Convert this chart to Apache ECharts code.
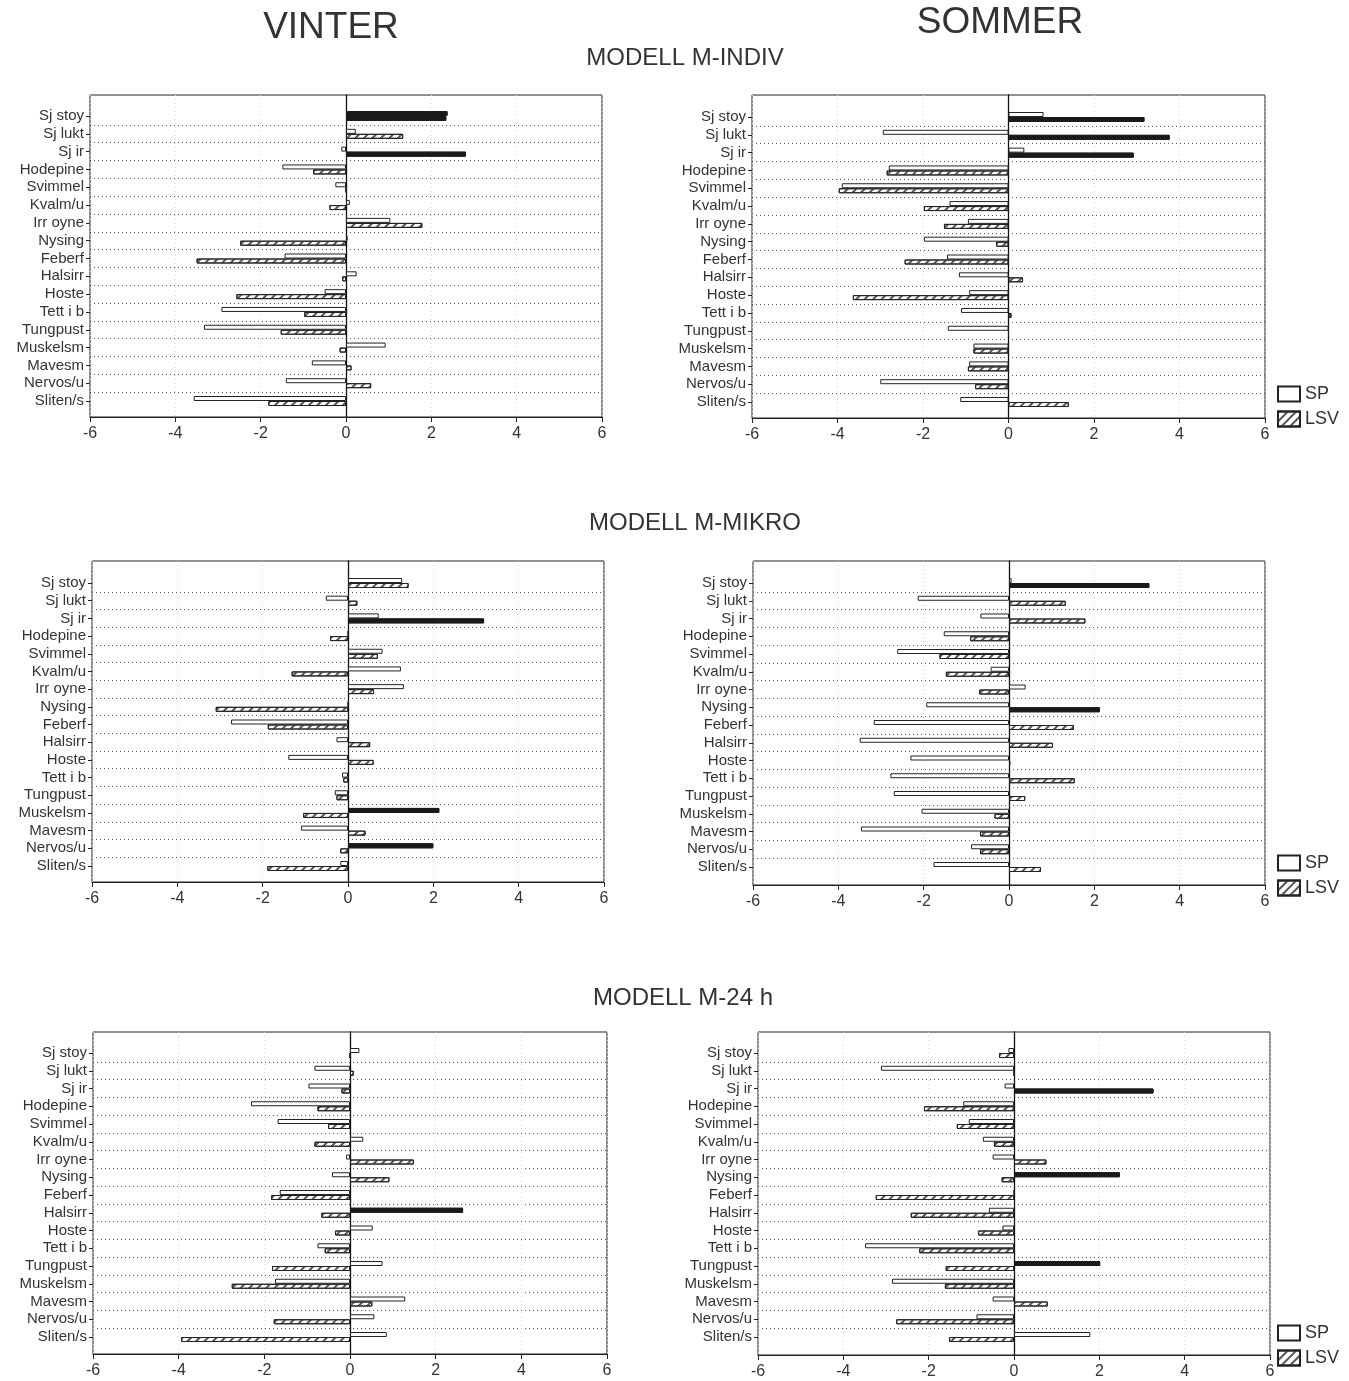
<!DOCTYPE html>
<html>
<head>
<meta charset="utf-8">
<script src="https://cdn.jsdelivr.net/npm/echarts@6/dist/echarts.min.js"></script>
<style>
html,body{margin:0;padding:0;background:#fff;}
#chart{width:1349px;height:1381px;}
</style>
</head>
<body>
<div id="chart"></div>
<script>
// ---------- DATA ----------
const categories = ['Sj stoy','Sj lukt','Sj ir','Hodepine','Svimmel','Kvalm/u','Irr oyne','Nysing','Feberf','Halsirr','Hoste','Tett i b','Tungpust','Muskelsm','Mavesm','Nervos/u','Sliten/s'];
const seasons = ['VINTER', 'SOMMER'];
const models = ['MODELL M-INDIV', 'MODELL M-MIKRO', 'MODELL M-24 h'];
const seriesNames = ['SP', 'LSV'];

// MODELL M-INDIV
const indivVinterSP  = [2.38, 0.23, -0.11, -1.49, -0.25, 0.09, 1.04, 0.04, -1.44, 0.25, -0.50, -2.92, -3.33, 0.93, -0.80, -1.41, -3.57];
const indivVinterLSV = [2.35, 1.34, 2.81, -0.77, 0, -0.39, 1.79, -2.48, -3.50, -0.09, -2.57, -0.98, -1.53, -0.15, 0.13, 0.59, -1.82];
const indivVinterDarkSP  = ['Sj stoy'];
const indivVinterDarkLSV = ['Sj stoy', 'Sj ir'];

const indivSommerSP  = [0.82, -2.94, 0.37, -2.80, -3.90, -1.38, -0.95, -1.98, -1.44, -1.16, -0.92, -1.11, -1.42, -0.82, -0.92, -3.00, -1.13];
const indivSommerLSV = [3.18, 3.77, 2.93, -2.85, -3.97, -1.98, -1.51, -0.29, -2.43, 0.34, -3.64, 0.07, 0, -0.82, -0.95, -0.78, 1.41];
const indivSommerDarkSP  = [];
const indivSommerDarkLSV = ['Sj stoy', 'Sj lukt', 'Sj ir'];

// MODELL M-MIKRO
const mikroVinterSP  = [1.27, -0.52, 0.72, 0, 0.81, 1.24, 1.31, 0, -2.74, -0.27, -1.40, -0.14, -0.31, 2.14, -1.10, 2.00, -0.18];
const mikroVinterLSV = [1.42, 0.22, 3.19, -0.42, 0.70, -1.32, 0.61, -3.10, -1.88, 0.52, 0.60, -0.11, -0.27, -1.05, 0.41, -0.18, -1.89];
const mikroVinterDarkSP  = ['Muskelsm', 'Nervos/u'];
const mikroVinterDarkLSV = ['Sj ir'];

const mikroSommerSP  = [0.06, -2.14, -0.67, -1.53, -2.62, -0.43, 0.39, -1.94, -3.17, -3.50, -2.31, -2.78, -2.70, -2.05, -3.47, -0.89, -1.77];
const mikroSommerLSV = [3.29, 1.33, 1.79, -0.91, -1.63, -1.48, -0.70, 2.13, 1.52, 1.03, 0.03, 1.54, 0.38, -0.34, -0.68, -0.68, 0.75];
const mikroSommerDarkSP  = [];
const mikroSommerDarkLSV = ['Sj stoy', 'Nysing'];

// MODELL M-24 h
const h24VinterSP  = [0.22, -0.83, -0.97, -2.31, -1.69, 0.31, -0.09, -0.42, -1.64, 2.64, 0.53, -0.76, 0.76, -1.75, 1.29, 0.57, 0.86];
const h24VinterLSV = [0, 0.09, -0.20, -0.76, -0.51, -0.83, 1.49, 0.92, -1.84, -0.67, -0.35, -0.59, -1.82, -2.76, 0.52, -1.78, -3.94];
const h24VinterDarkSP  = ['Halsirr'];
const h24VinterDarkLSV = [];

const h24SommerSP  = [-0.13, -3.12, -0.22, -1.19, -1.06, -0.73, -0.50, 2.48, 0, -0.59, -0.27, -3.49, 2.02, -2.86, -0.50, -0.88, 1.79];
const h24SommerLSV = [-0.35, 0, 3.27, -2.11, -1.34, -0.47, 0.76, -0.29, -3.24, -2.42, -0.84, -2.22, -1.60, -1.62, 0.79, -2.76, -1.52];
const h24SommerDarkSP  = ['Nysing', 'Tungpust'];
const h24SommerDarkLSV = ['Sj ir'];

// ---------- LAYOUT ----------
const panels = [
  {sp: indivVinterSP, lsv: indivVinterLSV, dSP: indivVinterDarkSP, dLSV: indivVinterDarkLSV,
   frame: {left: 90, top: 95, width: 512, bottom: 417}, rows: [116, 401], legend: null},
  {sp: indivSommerSP, lsv: indivSommerLSV, dSP: indivSommerDarkSP, dLSV: indivSommerDarkLSV,
   frame: {left: 752, top: 95, width: 513, bottom: 418}, rows: [117, 402], legend: {left: 1272, top: 380}},
  {sp: mikroVinterSP, lsv: mikroVinterLSV, dSP: mikroVinterDarkSP, dLSV: mikroVinterDarkLSV,
   frame: {left: 92, top: 561, width: 512, bottom: 882}, rows: [583, 866], legend: null},
  {sp: mikroSommerSP, lsv: mikroSommerLSV, dSP: mikroSommerDarkSP, dLSV: mikroSommerDarkLSV,
   frame: {left: 753, top: 561, width: 512, bottom: 885}, rows: [583, 867], legend: {left: 1272, top: 849}},
  {sp: h24VinterSP, lsv: h24VinterLSV, dSP: h24VinterDarkSP, dLSV: h24VinterDarkLSV,
   frame: {left: 93, top: 1032, width: 514, bottom: 1354}, rows: [1053, 1337], legend: null},
  {sp: h24SommerSP, lsv: h24SommerLSV, dSP: h24SommerDarkSP, dLSV: h24SommerDarkLSV,
   frame: {left: 758, top: 1032, width: 512, bottom: 1355}, rows: [1053, 1337], legend: {left: 1272, top: 1319}}
];

const FONT = '"Liberation Sans", Arial, sans-serif';
const INK = '#222';
const DARK = '#1a1a1a';
const hatch = {
  symbol: 'rect', symbolSize: 1, rotation: -Math.PI / 4,
  dashArrayX: [1, 0], dashArrayY: [1.3, 3.2], color: '#555'
};
const solidDecal = Object.assign({}, hatch, {color: DARK});

const grid = [], xAxis = [], yAxis = [], series = [], legend = [];

panels.forEach((p, i) => {
  const s = (p.rows[1] - p.rows[0]) / (categories.length - 1);
  const fi = grid.length;
  grid.push({left: p.frame.left, top: p.frame.top, width: p.frame.width,
             height: p.frame.bottom - p.frame.top, show: true,
             borderColor: INK, borderWidth: 1, backgroundColor: 'transparent'});
  grid.push({left: p.frame.left, top: p.rows[0] - s / 2, width: p.frame.width,
             height: s * categories.length});
  // frame axes
  xAxis.push({gridIndex: fi, type: 'value', min: -6, max: 6, interval: 2,
    axisLine: {show: true, onZero: false, lineStyle: {color: INK, width: 1}},
    axisTick: {show: true, length: 5, lineStyle: {color: INK}},
    axisLabel: {fontFamily: FONT, fontSize: 16, color: '#333', margin: 9},
    splitLine: {show: true, lineStyle: {color: '#d8d8d8', type: [1, 3], width: 1}}});
  yAxis.push({gridIndex: fi, type: 'value', min: 0, max: 1,
    axisLine: {show: true, onZero: true, lineStyle: {color: '#111', width: 1.3}},
    axisTick: {show: false}, axisLabel: {show: false}, splitLine: {show: false}});
  // data axes
  xAxis.push({gridIndex: fi + 1, type: 'value', min: -6, max: 6, interval: 2, show: false});
  yAxis.push({gridIndex: fi + 1, type: 'category', data: categories, inverse: true,
    axisLine: {show: false, onZero: false},
    axisTick: {show: true, alignWithLabel: true, length: 4, interval: 0, lineStyle: {color: INK}},
    axisLabel: {interval: 0, fontFamily: FONT, fontSize: 15, color: '#333', margin: 6},
    splitLine: {show: true, interval: 0, showMinLine: false, showMaxLine: false,
                lineStyle: {color: '#555', type: [1, 3], width: 1}}});
  const mk = (vals, dark) => vals.map((v, k) =>
    dark.includes(categories[k])
      ? {value: v, itemStyle: {color: DARK, borderColor: DARK, decal: solidDecal}}
      : v);
  series.push({type: 'bar', name: seriesNames[0], xAxisIndex: fi + 1, yAxisIndex: fi + 1,
    barWidth: 5, barGap: '0%', data: mk(p.sp, p.dSP),
    itemStyle: {color: '#fff', borderColor: INK, borderWidth: 1}});
  series.push({type: 'bar', name: seriesNames[1], xAxisIndex: fi + 1, yAxisIndex: fi + 1,
    barWidth: 5, barGap: '0%', data: mk(p.lsv, p.dLSV),
    itemStyle: {color: '#fff', borderColor: INK, borderWidth: 1, decal: hatch}});
  if (p.legend) {
    legend.push({left: p.legend.left, top: p.legend.top, orient: 'vertical',
      data: seriesNames, itemWidth: 22, itemHeight: 15, itemGap: 7, icon: 'rect',
      textStyle: {fontFamily: FONT, fontSize: 18, color: '#333'},
      selectedMode: false});
  }
});

const titleText = (text, x, y, size) => ({type: 'text', x: x, y: y,
  style: {text: text, textAlign: 'center', textVerticalAlign: 'middle',
          font: size + 'px ' + FONT, fill: '#333'}});

const graphic = [
  titleText(seasons[0], 331, 28, 37),
  titleText(seasons[1], 1000, 23, 37),
  titleText(models[0], 685, 58, 24),
  titleText(models[1], 695, 523, 24),
  titleText(models[2], 683, 998, 24)
];

const chart = echarts.init(document.getElementById('chart'), null, {renderer: 'canvas'});
chart.setOption({
  animation: false,
  backgroundColor: '#fff',
  grid, xAxis, yAxis, series, legend, graphic
});
</script>
</body>
</html>
